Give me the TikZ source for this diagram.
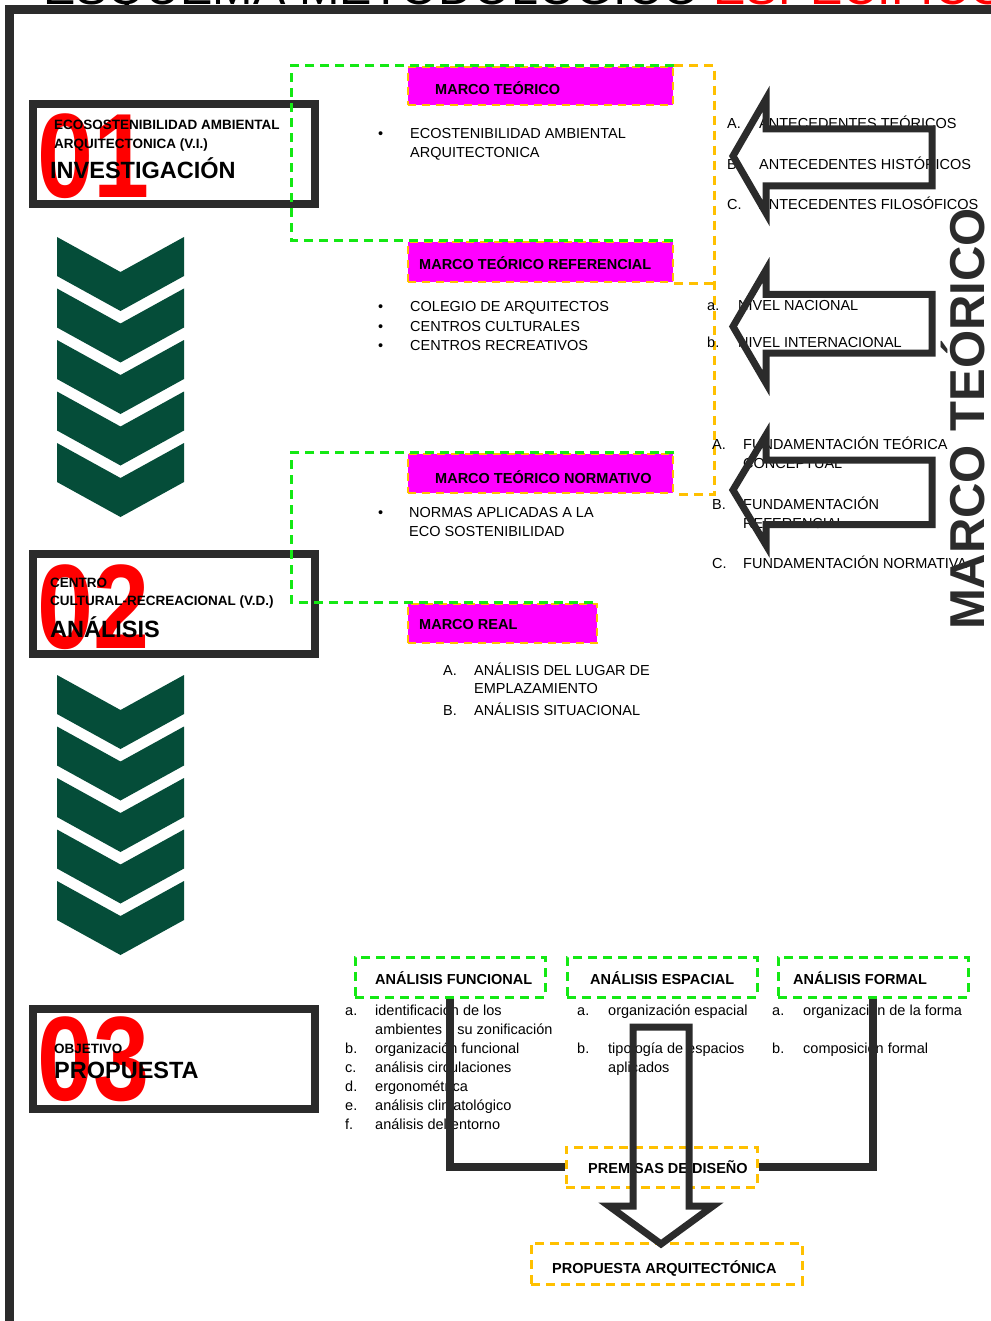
\documentclass[tikz,border=0pt]{standalone}
\usepackage{graphicx}
\usepackage{fontspec}
\setmainfont{Liberation Sans}
\definecolor{framegray}{RGB}{43,43,43}
\definecolor{chev}{RGB}{5,77,57}
\definecolor{mag}{RGB}{255,0,255}
\definecolor{lime}{RGB}{20,232,20}
\definecolor{amber}{RGB}{255,192,0}
\definecolor{rojo}{RGB}{255,0,0}
\newcommand\stepnum[1]{\scalebox{0.84}[1]{#1}}
\tikzset{
  txt/.style={anchor=base west, inner sep=0pt, font=\fontsize{14.5}{17}\selectfont},
  btxt/.style={anchor=base west, inner sep=0pt, font=\bfseries\fontsize{14.5}{17}\selectfont},
  sbt/.style={anchor=base west, inner sep=0pt, font=\bfseries\fontsize{13.5}{16}\selectfont},
  lbt/.style={anchor=base west, inner sep=0pt, font=\bfseries\fontsize{23.5}{26}\selectfont},
  digits/.style={anchor=base west, inner sep=0pt, text=rojo, font=\bfseries\fontsize{120}{120}\selectfont},
  stepframe/.style={draw=framegray, line width=8pt, inner sep=0pt, minimum width=282pt, minimum height=100pt},
  mbox/.style={fill=mag, draw=amber, line width=2.5pt, dash pattern=on 8pt off 6pt, inner sep=0pt},
  gbox/.style={draw=lime, line width=3pt, dash pattern=on 9pt off 6pt, inner sep=0pt, minimum width=190pt, minimum height=40pt},
  obox/.style={draw=amber, line width=3pt, dash pattern=on 9pt off 6pt, inner sep=0pt},
  gdash/.style={draw=lime, line width=3pt, dash pattern=on 9pt off 6pt},
  odash/.style={draw=amber, line width=3pt, dash pattern=on 9pt off 6pt},
  hollow/.style={draw=framegray, line width=7pt, line join=miter},
  conn/.style={draw=framegray, line width=8pt, line join=miter},
}
\begin{document}
\begin{tikzpicture}[x=1pt, y=-1pt]
\useasboundingbox (0,0) rectangle (990,1321);
\fill[white] (0,0) rectangle (990,1321);

% title (runs off the top edge)
\node[anchor=base west, inner sep=0pt, font=\fontsize{48.5}{50}\selectfont] (title) at (43,5)
  {ESQUEMA METODOLÓGICO \textcolor{rojo}{ESPECÍFICO}};

% page frame
\draw[framegray, line width=9pt] (9.5,1340) -- (9.5,9.5) -- (1000,9.5);

% chevron columns
\foreach \y in {237,288.5,340,391.5,443,675,726.5,778,829.5,881}{
  \fill[chev] (57,\y) -- (120.5,\y+35) -- (184,\y) -- (184,\y+39) -- (120.5,\y+74) -- (57,\y+39) -- cycle;
}

% step 01
\node[digits] (n1) at (37,198) {\stepnum{01}};
\node[sbt] (b1a) at (54,130) {ECOSOSTENIBILIDAD AMBIENTAL};
\node[sbt] (b1b) at (54,149) {ARQUITECTONICA (V.I.)};
\node[lbt] (b1c) at (50,179) {INVESTIGACIÓN};
\node[stepframe] (b1) at (174,154) {};

% step 02
\node[digits] (n2) at (37,648) {\stepnum{02}};
\node[sbt] (b2a) at (50,587) {CENTRO};
\node[sbt] (b2b) at (50,605) {CULTURAL-RECREACIONAL (V.D.)};
\node[lbt] (b2c) at (50,637) {ANÁLISIS};
\node[stepframe] (b2) at (174,604) {};

% step 03
\node[digits] (n3) at (37,1100) {\stepnum{03}};
\node[sbt] (b3a) at (54,1053) {OBJETIVO};
\node[lbt] (b3b) at (54,1078) {PROPUESTA};
\node[stepframe] (b3) at (174,1059) {};

% framework boxes
\node[mbox, minimum width=265pt, minimum height=38pt] (mt) at (540.5,86) {};
\node[mbox, minimum width=265pt, minimum height=40pt] (mtr) at (540.5,262) {};
\node[mbox, minimum width=265pt, minimum height=39pt] (mtn) at (540.5,473.5) {};
\node[mbox, minimum width=189pt, minimum height=39pt] (mr) at (502.5,623.5) {};
\node[btxt] (mtt) at (435,95) {MARCO TEÓRICO};
\node[btxt] (mtrt) at (419,270) {MARCO TEÓRICO REFERENCIAL};
\node[btxt] (mtnt) at (435,483) {MARCO TEÓRICO NORMATIVO};
\node[btxt] (mrt) at (419,629) {MARCO REAL};

% dashed brackets
\draw[odash] (mt.north east) -- ++(40,0) |- (mtn.south east);
\draw[odash] (mtr.south east) -- ++(40,0);
\draw[gdash] (mt.north east) -- (mt.north west) -- ++(-115,0) |- (mtr.north east);
\draw[gdash] (mtn.north east) -- (mtn.north west) -- ++(-115,0) |- (mr.north east);

% bullet lists
\node[txt] (p1) at (378,139) {•};
\node[txt] (t1a) at (410,139) {ECOSTENIBILIDAD AMBIENTAL};
\node[txt] (t1b) at (410,158) {ARQUITECTONICA};
\node[txt] (p2) at (378,312) {•};
\node[txt] (p3) at (378,331) {•};
\node[txt] (p4) at (378,350) {•};
\node[txt] (t2a) at (410,312) {COLEGIO DE ARQUITECTOS};
\node[txt] (t2b) at (410,331) {CENTROS CULTURALES};
\node[txt] (t2c) at (410,350) {CENTROS RECREATIVOS};
\node[txt] (p5) at (378,517) {•};
\node[txt] (t3a) at (409,517) {NORMAS APLICADAS A LA};
\node[txt] (t3b) at (409,536) {ECO SOSTENIBILIDAD};
\node[txt] (l4a) at (443,675) {A.};
\node[txt] (t4a) at (474,675) {ANÁLISIS DEL LUGAR DE};
\node[txt] (t4b) at (474,693) {EMPLAZAMIENTO};
\node[txt] (l4b) at (443,715) {B.};
\node[txt] (t4c) at (474,715) {ANÁLISIS SITUACIONAL};

% right-hand lists
\node[txt] (ra) at (727,129) {A.};
\node[txt] (rat) at (759,129) {ANTECEDENTES TEÓRICOS};
\node[txt] (rb) at (727,170) {B.};
\node[txt] (rbt) at (759,170) {ANTECEDENTES HISTÓRICOS};
\node[txt] (rc) at (727,210) {C.};
\node[txt] (rct) at (759,210) {ANTECEDENTES FILOSÓFICOS};
\node[txt] (sa) at (707,310) {a.};
\node[txt] (sat) at (738,310) {NIVEL NACIONAL};
\node[txt] (sb) at (707,347) {b.};
\node[txt] (sbt) at (738,347) {NIVEL INTERNACIONAL};
\node[txt] (fa) at (712,449) {A.};
\node[txt] (fat) at (743,449) {FUNDAMENTACIÓN TEÓRICA};
\node[txt] (fat2) at (743,468) {CONCEPTUAL};
\node[txt] (fb) at (712,509) {B.};
\node[txt] (fbt) at (743,509) {FUNDAMENTACIÓN};
\node[txt] (fbt2) at (743,528) {REFERENCIAL};
\node[txt] (fc) at (712,568) {C.};
\node[txt] (fct) at (743,568) {FUNDAMENTACIÓN NORMATIVA};

% hollow arrows over the right-hand lists
\draw[hollow] (932,129) -- (766,129) -- (766,99) -- (733,156) -- (766,213) -- (766,186) -- (932,186) -- cycle;
\draw[hollow] (932,294.5) -- (766,294.5) -- (766,270) -- (733,326.5) -- (766,383) -- (766,353) -- (932,353) -- cycle;
\draw[hollow] (932,460) -- (766,460) -- (766,435) -- (733,490) -- (766,545) -- (766,524.5) -- (932,524.5) -- cycle;

% vertical heading
\node[rotate=90, anchor=base, inner sep=0pt, text=framegray, font=\bfseries\fontsize{49}{50}\selectfont] (mtv) at (984,419) {MARCO TEÓRICO};

% analysis boxes
\node[gbox] (fun) at (450,977) {};
\node[gbox] (esp) at (662,977) {};
\node[gbox] (form) at (873,977) {};
\node[btxt] (funt) at (375,984) {ANÁLISIS FUNCIONAL};
\node[btxt] (espt) at (590,984) {ANÁLISIS ESPACIAL};
\node[btxt] (formt) at (793,984) {ANÁLISIS FORMAL};

\node[txt] (ua) at (345,1015) {a.};
\node[txt] (uat) at (375,1015) {identificación de los};
\node[txt] (uat2) at (375,1034) {ambientes y su zonificación};
\node[txt] (ub) at (345,1053) {b.};
\node[txt] (ubt) at (375,1053) {organización funcional};
\node[txt] (uc) at (345,1072) {c.};
\node[txt] (uct) at (375,1072) {análisis circulaciones};
\node[txt] (ud) at (345,1091) {d.};
\node[txt] (udt) at (375,1091) {ergonométrica};
\node[txt] (ue) at (345,1110) {e.};
\node[txt] (uet) at (375,1110) {análisis climatológico};
\node[txt] (uf) at (345,1129) {f.};
\node[txt] (uft) at (375,1129) {análisis del entorno};

\node[txt] (ea) at (577,1015) {a.};
\node[txt] (eat) at (608,1015) {organización espacial};
\node[txt] (eb) at (577,1053) {b.};
\node[txt] (ebt) at (608,1053) {tipología de espacios};
\node[txt] (ebt2) at (608,1072) {aplicados};

\node[txt] (oa) at (772,1015) {a.};
\node[txt] (oat) at (803,1015) {organización de la forma};
\node[txt] (ob) at (772,1053) {b.};
\node[txt] (obt) at (803,1053) {composición formal};

% design premises and proposal
\node[obox, minimum width=191pt, minimum height=40pt] (prem) at (661.5,1167) {};
\node[btxt] (premt) at (588,1173) {PREMISAS DE DISEÑO};
\node[obox, minimum width=271pt, minimum height=41pt] (prop) at (666.5,1263.5) {};
\node[btxt] (propt) at (552,1273) {PROPUESTA ARQUITECTÓNICA};

% connectors into the premises
\draw[conn] (fun.south) |- (prem.west);
\draw[conn] (form.south) |- (prem.east);

% hollow arrow down to the proposal
\draw[hollow] (633,1027) -- (689,1027) -- (689,1206) -- (713,1206) -- (661,1244) -- (609,1206) -- (633,1206) -- cycle;
\end{tikzpicture}
\end{document}
